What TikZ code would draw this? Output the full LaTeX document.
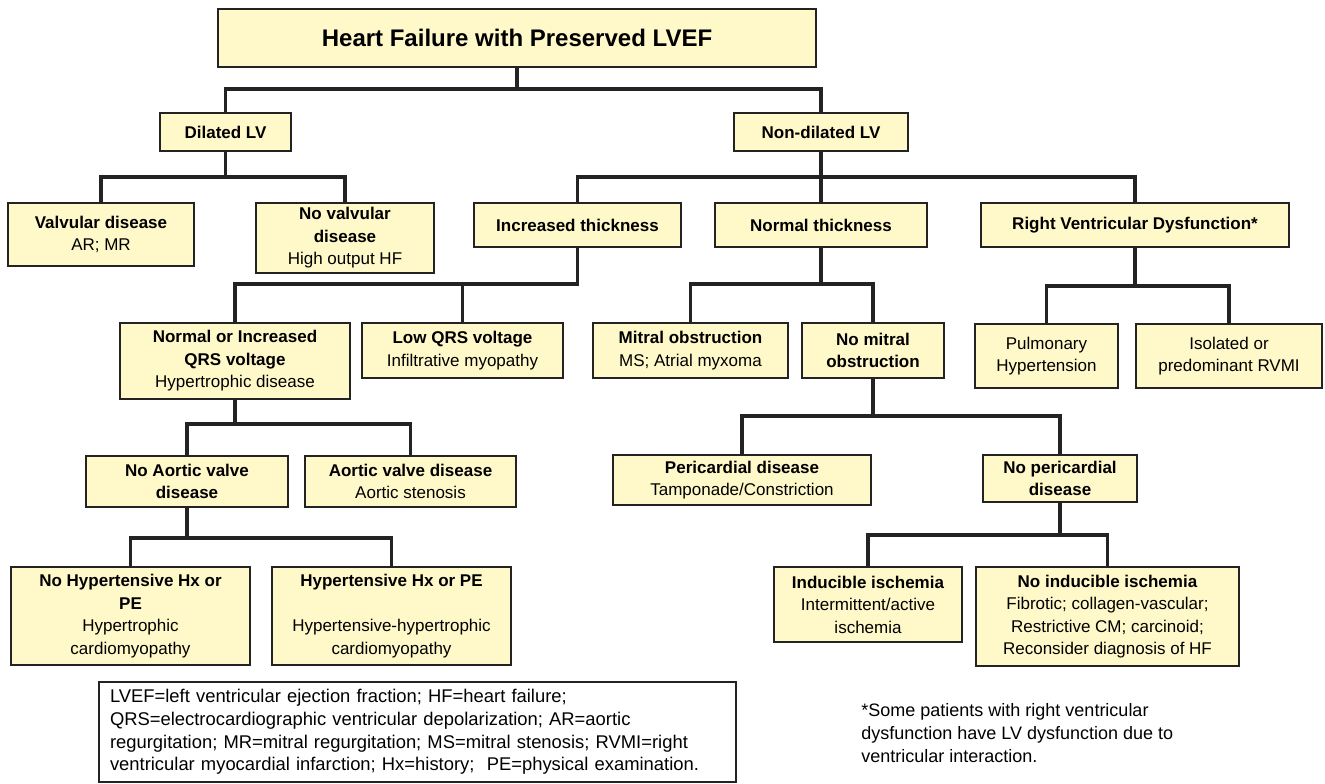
\documentclass[tikz,border=0pt]{standalone}
\usepackage{fontspec}
\setmainfont{Liberation Sans}
\definecolor{boxfill}{HTML}{FFF8C8}
\definecolor{linec}{HTML}{232323}
\tikzset{
  box/.style={draw=linec, fill=boxfill, line width=0.9pt, align=center, inner sep=0pt, outer sep=0pt, font=\fontsize{8.5}{11.25}\selectfont},
  link/.style={draw=linec, line width=1.7pt},
  note/.style={align=left, inner sep=0pt, font=\fontsize{9.2}{11.3}\selectfont}
}

\begin{document}
\begin{tikzpicture}[x=0.5pt, y=-0.5pt]
        \useasboundingbox (0,0) rectangle (1325,783);
        \node[box, minimum width=299pt, minimum height=29pt, font=\fontsize{12}{14}\selectfont\bfseries] (title) at (517,38) {Heart Failure with Preserved LVEF};
        \node[box, minimum width=65.5pt, minimum height=19pt, font=\fontsize{8.5}{11.25}\selectfont\bfseries] (dil) at (225.5,132) {Dilated LV};
        \node[box, minimum width=87pt, minimum height=19pt, font=\fontsize{8.5}{11.25}\selectfont\bfseries] (ndil) at (821,132) {Non-dilated LV};
        \node[box, minimum width=93pt, minimum height=31.5pt] (valv) at (101,234.5) {\textbf{Valvular disease}\\AR; MR};
        \node[box, minimum width=89pt, minimum height=35pt] (novalv) at (345,238) {\textbf{No valvular}\\\textbf{disease}\\High output HF};
        \node[box, minimum width=103.5pt, minimum height=22pt, font=\fontsize{8.5}{11.25}\selectfont\bfseries] (incr) at (577.5,225) {Increased thickness};
        \node[box, minimum width=106pt, minimum height=22pt, font=\fontsize{8.5}{11.25}\selectfont\bfseries] (normt) at (821,225) {Normal thickness};
        \node[box, minimum width=154pt, minimum height=22pt, font=\fontsize{8.5}{11.25}\selectfont\bfseries] (rvd) at (1135,225) {Right Ventricular Dysfunction*};
        \node[box, minimum width=115pt, minimum height=38pt] (qrs) at (235,361) {\textbf{Normal or Increased}\\\textbf{QRS voltage}\\Hypertrophic disease};
        \node[box, minimum width=100.5pt, minimum height=27.5pt] (lowqrs) at (462.5,350.5) {\textbf{Low QRS voltage}\\Infiltrative myopathy};
        \node[box, minimum width=97.5pt, minimum height=27.5pt] (mitral) at (690.5,350.5) {\textbf{Mitral obstruction}\\MS; Atrial myxoma};
        \node[box, minimum width=71pt, minimum height=27.5pt] (nomitral) at (873,350.5) {\textbf{No mitral}\\\textbf{obstruction}};
        \node[box, minimum width=71.5pt, minimum height=32pt] (pulm) at (1046.5,356) {Pulmonary\\Hypertension};
        \node[box, minimum width=93pt, minimum height=32pt] (isol) at (1229,356) {Isolated or\\predominant RVMI};
        \node[box, minimum width=101pt, minimum height=25.5pt] (noaort) at (187,481.5) {\textbf{No Aortic valve}\\\textbf{disease}};
        \node[box, minimum width=105.5pt, minimum height=25.5pt] (aort) at (410.5,481.5) {\textbf{Aortic valve disease}\\Aortic stenosis};
        \node[box, minimum width=129pt, minimum height=25pt] (peri) at (742,480) {\textbf{Pericardial disease}\\Tamponade/Constriction};
        \node[box, minimum width=77pt, minimum height=23.5pt] (noperi) at (1060,478.5) {\textbf{No pericardial}\\\textbf{disease}};
        \node[box, minimum width=119.5pt, minimum height=49pt] (nohyp) at (130.5,616) {\textbf{No Hypertensive Hx or}\\\textbf{PE}\\Hypertrophic\\cardiomyopathy};
        \node[box, minimum width=119.5pt, minimum height=49pt] (hyp) at (391.5,616) {\textbf{Hypertensive Hx or PE}\\[11.25pt]Hypertensive-hypertrophic\\cardiomyopathy};
        \node[box, minimum width=94pt, minimum height=37.5pt] (induc) at (868,604.5) {\textbf{Inducible ischemia}\\Intermittent/active\\ischemia};
        \node[box, minimum width=131.5pt, minimum height=49.5pt] (noinduc) at (1107.5,616.5) {\textbf{No inducible ischemia}\\Fibrotic; collagen-vascular;\\Restrictive CM; carcinoid;\\Reconsider diagnosis of HF};
        \node[note, draw=linec, line width=0.9pt, fill=white, inner xsep=5.5pt, text width=307.5pt, minimum height=50pt] (legend) at (417.5,732) {LVEF=left ventricular ejection fraction; HF=heart failure;\\QRS=electrocardiographic ventricular depolarization; AR=aortic\\regurgitation; MR=mitral regurgitation; MS=mitral stenosis; RVMI=right\\ventricular myocardial infarction; Hx=history; \ PE=physical examination.};
        \node[note, anchor=west, font=\fontsize{9}{11.3}\selectfont] (foot) at (861,733) {*Some patients with right ventricular\\dysfunction have LV dysfunction due to\\ventricular interaction.};

        \draw[link] (title.south) -- ++(0,22) -| (dil.north);
        \draw[link] (title.south) -- ++(0,22) -| (ndil.north);
        \draw[link] (dil.south) -- ++(0,26) -| (valv.north);
        \draw[link] (dil.south) -- ++(0,26) -| (novalv.north);
        \draw[link] (ndil.south) -- ++(0,26) -| (incr.north);
        \draw[link] (ndil.south) -- ++(0,26) -| (normt.north);
        \draw[link] (ndil.south) -- ++(0,26) -| (rvd.north);
        \draw[link] (incr.south) -- ++(0,37) -| (qrs.north);
        \draw[link] (incr.south) -- ++(0,37) -| (lowqrs.north);
        \draw[link] (normt.south) -- ++(0,37) -| (mitral.north);
        \draw[link] (normt.south) -- ++(0,37) -| (nomitral.north);
        \draw[link] (rvd.south) -- ++(0,39) -| (pulm.north);
        \draw[link] (rvd.south) -- ++(0,39) -| (isol.north);
        \draw[link] (qrs.south) -- ++(0,25) -| (noaort.north);
        \draw[link] (qrs.south) -- ++(0,25) -| (aort.north);
        \draw[link] (nomitral.south) -- ++(0,38) -| (peri.north);
        \draw[link] (nomitral.south) -- ++(0,38) -| (noperi.north);
        \draw[link] (noaort.south) -- ++(0,31) -| (nohyp.north);
        \draw[link] (noaort.south) -- ++(0,31) -| (hyp.north);
        \draw[link] (noperi.south) -- ++(0,33) -| (induc.north);
        \draw[link] (noperi.south) -- ++(0,33) -| (noinduc.north);
    \end{tikzpicture}
\end{document}
